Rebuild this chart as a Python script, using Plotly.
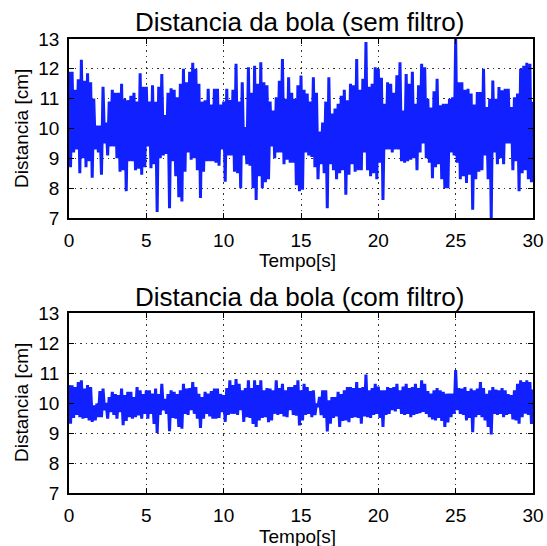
import plotly.graph_objects as go

# Tempo [s]: picos em t = 0.0, 0.2, ... 30.0 ; vales em t = 0.1, 0.3, ... 29.9
passo_tempo = 0.1
x_ticks = [0, 5, 10, 15, 20, 25, 30]
y_ticks = [7, 8, 9, 10, 11, 12, 13]

sem_filtro_picos = [
    11.9, 11.9, 11.3, 11.65, 12.3, 11.6, 11.85, 11.55, 11.0, 10.1, 10.1, 11.4, 10.2, 10.9, 11.3, 11.2, 11.2, 11.5, 11.0, 10.95, 11.1, 11.2, 10.9, 11.85, 11.4,
    11.4, 10.9, 11.45, 10.9, 11.4, 11.83, 10.45, 11.2, 11.35, 11.3, 11.05, 11.5, 12.0, 11.55, 11.9, 12.2, 12.0, 11.5, 10.9, 10.95, 11.33, 10.8, 11.33, 11.33, 10.8,
    10.9, 11.33, 10.95, 11.3, 12.17, 10.9, 11.55, 10.05, 12.05, 11.2, 12.1, 11.5, 12.22, 11.55, 11.45, 10.9, 10.6, 11.05, 11.6, 12.33, 11.0, 11.72, 11.2, 11.0, 11.45,
    11.78, 11.3, 11.17, 10.9, 11.72, 11.2, 9.9, 10.2, 10.9, 11.72, 10.5, 10.67, 10.83, 11.1, 11.3, 10.95, 11.5, 11.45, 12.33, 11.3, 11.67, 12.9, 11.4, 11.5, 12.05,
    12.0, 11.7, 10.83, 11.55, 11.5, 11.2, 11.78, 12.22, 10.6, 11.83, 11.5, 11.9, 10.83, 11.45, 12.17, 12.05, 11.0, 10.7, 11.25, 11.67, 10.78, 10.83, 10.83, 11.0, 11.05,
    13.0, 11.55, 11.55, 11.3, 11.33, 11.17, 10.8, 11.22, 11.22, 12.0, 10.72, 11.0, 11.61, 11.0, 11.39, 11.28, 11.33, 11.33, 10.72, 11.05, 11.17, 12.0, 12.1, 12.2, 12.17, 10.9,
]
sem_filtro_vales = [
    8.7, 9.2, 9.3, 8.5, 9.0, 8.7, 8.9, 8.35, 9.3, 9.2, 8.45, 9.5, 9.1, 9.4, 9.4, 9.0, 8.55, 8.6, 7.9, 8.9, 8.9, 8.6, 8.65, 8.45, 8.7,
    9.4, 8.67, 8.8, 7.2, 9.0, 9.1, 9.15, 7.33, 8.9, 8.4, 7.7, 7.55, 8.55, 9.2, 8.95, 9.0, 8.6, 7.67, 8.55, 8.9, 8.9, 8.9, 8.85, 8.75, 9.3,
    8.22, 9.1, 9.1, 8.55, 8.5, 8.0, 9.1, 8.8, 8.75, 8.0, 7.6, 8.4, 8.0, 8.2, 8.3, 9.4, 9.0, 9.2, 9.2, 8.8, 8.95, 8.85, 8.85, 8.1, 7.9,
    7.95, 9.2, 9.1, 9.05, 8.7, 8.3, 8.8, 8.5, 7.33, 8.8, 8.6, 8.3, 8.5, 8.6, 7.78, 8.45, 8.8, 8.55, 8.6, 8.6, 9.2, 8.6, 8.4, 8.5, 8.3,
    8.85, 7.6, 9.3, 9.3, 9.2, 9.3, 9.3, 8.9, 8.85, 8.9, 8.95, 9.0, 8.6, 9.2, 9.5, 9.0, 8.85, 8.33, 8.7, 8.8, 8.3, 8.0, 8.0, 9.2, 9.1,
    8.85, 8.3, 8.4, 8.17, 8.45, 7.28, 8.3, 8.55, 8.6, 9.1, 8.3, 7.0, 9.2, 8.8, 9.0, 8.8, 9.5, 9.5, 8.6, 8.9, 7.9, 8.5, 8.6, 8.3, 8.2,
]
com_filtro_picos = [
    10.6, 10.59, 10.53, 10.7, 10.76, 10.48, 10.6, 10.53, 9.92, 9.98, 10.4, 10.48, 10.0, 10.2, 10.37, 10.3, 10.26, 10.48, 10.26, 10.37, 10.37, 10.2, 10.53, 10.42, 10.3,
    10.42, 10.42, 10.31, 10.48, 10.3, 10.64, 10.14, 10.3, 10.42, 10.37, 10.3, 10.42, 10.64, 10.48, 10.5, 10.7, 10.53, 10.31, 10.2, 10.37, 10.31, 10.4, 10.48, 10.48, 10.3,
    10.26, 10.5, 10.76, 10.6, 10.8, 10.64, 10.42, 10.5, 10.76, 10.5, 10.76, 10.6, 10.76, 10.42, 10.5, 10.48, 10.42, 10.76, 10.5, 10.64, 10.42, 10.53, 10.53, 10.6, 10.76,
    10.42, 10.64, 10.53, 10.4, 10.42, 9.98, 10.2, 10.42, 10.42, 10.09, 10.2, 10.2, 10.37, 10.3, 10.42, 10.53, 10.53, 10.5, 10.7, 10.5, 10.53, 10.95, 10.42, 10.5, 10.64,
    10.55, 10.42, 10.42, 10.53, 10.5, 10.53, 10.64, 10.42, 10.55, 10.64, 10.5, 10.53, 10.64, 10.5, 10.76, 10.64, 10.4, 10.31, 10.42, 10.5, 10.42, 10.37, 10.31, 10.31, 10.31,
    11.1, 10.5, 10.48, 10.53, 10.4, 10.48, 10.42, 10.48, 10.7, 10.5, 10.31, 10.42, 10.53, 10.45, 10.42, 10.5, 10.42, 10.3, 10.26, 10.42, 10.64, 10.76, 10.7, 10.76, 10.7, 10.45,
]
com_filtro_vales = [
    9.31, 9.5, 9.6, 9.53, 9.48, 9.5, 9.42, 9.37, 9.42, 9.53, 9.53, 9.76, 9.48, 9.7, 9.6, 9.48, 9.7, 9.26, 9.4, 9.53, 9.48, 9.53, 9.59, 9.48, 9.64,
    9.48, 9.64, 9.3, 9.0, 9.6, 9.76, 9.64, 9.06, 9.5, 9.48, 9.2, 9.14, 9.64, 9.6, 9.76, 9.64, 9.48, 9.17, 9.48, 9.64, 9.55, 9.48, 9.48, 9.5, 9.7,
    9.37, 9.6, 9.64, 9.64, 9.6, 9.76, 9.37, 9.53, 9.5, 9.3, 9.2, 9.42, 9.5, 9.53, 9.36, 9.42, 9.64, 9.6, 9.64, 9.55, 9.53, 9.76, 9.6, 9.58, 9.25,
    9.42, 9.6, 9.64, 9.53, 9.6, 9.87, 9.6, 9.5, 9.05, 9.31, 9.5, 9.55, 9.2, 9.4, 9.42, 9.36, 9.5, 9.53, 9.5, 9.31, 9.55, 9.53, 9.5, 9.6, 9.64,
    9.5, 9.2, 9.6, 9.64, 9.76, 9.72, 9.8, 9.64, 9.6, 9.64, 9.53, 9.6, 9.64, 9.66, 9.7, 9.64, 9.53, 9.45, 9.42, 9.5, 9.4, 9.2, 9.35, 9.53, 9.64,
    9.76, 9.64, 9.6, 9.42, 9.5, 9.03, 9.53, 9.6, 9.53, 9.42, 9.2, 8.95, 9.64, 9.6, 9.64, 9.53, 9.6, 9.64, 9.45, 9.42, 9.31, 9.53, 9.64, 9.6, 9.3,
]


def intercala(picos, vales):
    y = []
    for i, p in enumerate(picos):
        y.append(p)
        if i < len(vales):
            y.append(vales[i])
    t = [round(i * passo_tempo, 2) for i in range(len(y))]
    return t, y


t1, y1 = intercala(sem_filtro_picos, sem_filtro_vales)
t2, y2 = intercala(com_filtro_picos, com_filtro_vales)

W, H = 547, 546
FONT = "Liberation Sans, Arial, Helvetica, sans-serif"
BLUE = "rgb(16,32,255)"

fig = go.Figure()
fig.add_trace(go.Scatter(x=t1, y=y1, mode="lines", line=dict(color=BLUE, width=3),
                         xaxis="x", yaxis="y", showlegend=False))
fig.add_trace(go.Scatter(x=t2, y=y2, mode="lines", line=dict(color=BLUE, width=3),
                         xaxis="x2", yaxis="y2", showlegend=False))

xd = [69 / W, 533 / W]
yd1 = [1 - 218 / H, 1 - 39 / H]
yd2 = [1 - 493 / H, 1 - 313 / H]

ax_common = dict(
    showline=True, linecolor="black", linewidth=1.8, mirror="ticks",
    ticks="inside", ticklen=5, tickwidth=1, tickcolor="black",
    showgrid=True, gridcolor="rgba(0,0,0,0.8)", gridwidth=1, griddash="1.5px,4px",
    zeroline=False, automargin=False,
    tickfont=dict(family=FONT, size=19, color="black"),
)

fig.update_layout(
    width=W, height=H, autosize=False,
    margin=dict(l=0, r=0, t=0, b=0, pad=0, autoexpand=False),
    paper_bgcolor="white", plot_bgcolor="white",
    xaxis=dict(domain=xd, anchor="y", range=[0, 30], tickvals=x_ticks, ticklabelstandoff=4, **ax_common),
    yaxis=dict(domain=yd1, anchor="x", range=[7, 13], tickvals=y_ticks, ticklabelstandoff=4, **ax_common),
    xaxis2=dict(domain=xd, anchor="y2", range=[0, 30], tickvals=x_ticks, ticklabelstandoff=4, **ax_common),
    yaxis2=dict(domain=yd2, anchor="x2", range=[7, 13], tickvals=y_ticks, ticklabelstandoff=4, **ax_common),
)

def ann(text, x, y, size, angle=0):
    fig.add_annotation(text=text, x=x / W, y=1 - y / H, xref="paper", yref="paper",
                       showarrow=False, xanchor="center", yanchor="middle", textangle=angle,
                       font=dict(family=FONT, size=size, color="black"))

ann("Distancia da bola (sem filtro)", 299, 22, 26)
ann("Distancia da bola (com filtro)", 299, 297, 26)
ann("Tempo[s]", 298, 260, 19)
ann("Tempo[s]", 298, 536, 19)
ann("Distancia [cm]", 21, 129, 19, -90)
ann("Distancia [cm]", 21, 403, 19, -90)

fig.write_html(
    "out.html",
    config={"responsive": False, "displayModeBar": False},
    post_script="document.body.style.margin='0';document.body.style.overflow='hidden';",
)
